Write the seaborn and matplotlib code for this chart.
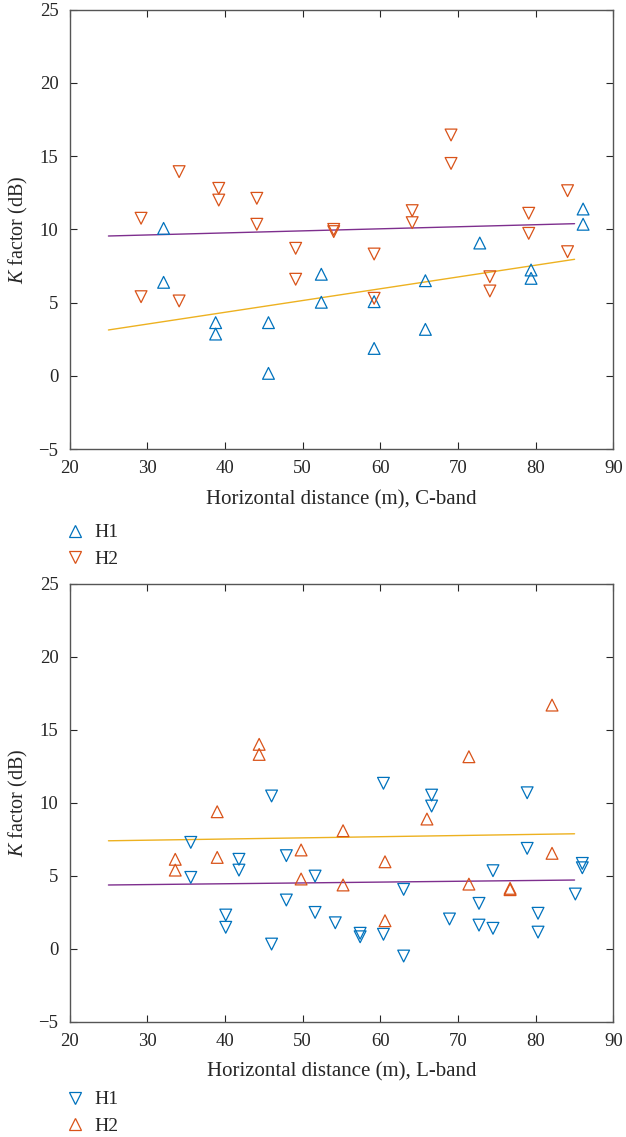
import numpy as np
import pandas as pd
import seaborn as sns
import matplotlib
matplotlib.use("Agg")
import matplotlib.pyplot as plt
from matplotlib.lines import Line2D

# ---------------- data: C-band (top) ----------------
c_h1_x = [32.1, 32.1, 38.8, 38.8, 45.6, 45.6, 52.4, 52.4, 59.2, 59.2, 65.8, 65.8, 72.8, 79.4, 79.4, 86.1, 86.1]
c_h1_y = [10.07, 6.39, 3.64, 2.86, 3.64, 0.18, 6.94, 5.03, 5.07, 1.88, 6.50, 3.18, 9.07, 7.23, 6.66, 11.39, 10.35]
c_h2_x = [29.2, 29.2, 34.1, 34.1, 39.2, 39.2, 44.1, 44.1, 49.1, 49.1, 54.0, 54.0,
          59.2, 59.2, 64.1, 64.1, 69.1, 69.1, 74.1, 74.1, 79.1, 79.1, 84.1, 84.1]
c_h2_y = [10.76, 5.41, 13.94, 5.12, 12.80, 12.00, 12.12, 10.35, 8.71, 6.60, 9.85, 10.00,
          8.32, 5.30, 11.28, 10.46, 16.44, 14.50, 6.77, 5.80, 11.10, 9.73, 12.64, 8.48]
c_fit_x = [25, 85]
c_fit_h1 = [3.14, 7.96]   # yellow
c_fit_h2 = [9.55, 10.39]  # purple

# ---------------- data: L-band (bottom) ----------------
l_h1_x = [35.6, 35.6, 40.1, 40.1, 41.8, 41.8, 46.0, 46.0, 47.9, 47.9, 51.6, 51.6, 54.2,
          57.4, 57.4, 60.4, 60.4, 63.0, 63.0, 66.6, 66.6, 68.9, 72.7, 72.7, 74.5, 74.5,
          78.9, 78.9, 80.3, 80.3, 85.1, 86.0, 86.0]
l_h1_y = [7.29, 4.89, 2.31, 1.47, 6.13, 5.39, 10.47, 0.32, 6.38, 3.34, 4.98, 2.49, 1.78,
          1.06, 0.82, 11.34, 0.99, 4.07, -0.50, 10.53, 9.78, 2.04, 3.11, 1.62, 5.35, 1.40,
          10.69, 6.88, 2.43, 1.14, 3.75, 5.85, 5.55]
l_h2_x = [33.6, 33.6, 39.0, 39.0, 44.4, 44.4, 49.8, 49.8, 55.2, 55.2, 60.6, 60.6, 66.0,
          71.4, 71.4, 76.7, 76.7, 82.1, 82.1]
l_h2_y = [6.13, 5.39, 9.39, 6.26, 14.01, 13.32, 6.77, 4.78, 8.09, 4.37, 5.96, 1.92, 8.89,
          13.16, 4.43, 4.14, 4.05, 16.70, 6.54]
l_fit_x = [25, 85]
l_fit_h1 = [4.37, 4.71]   # purple
l_fit_h2 = [7.40, 7.88]   # yellow

x_ticks = [20, 30, 40, 50, 60, 70, 80, 90]
y_ticks = [-5, 0, 5, 10, 15, 20, 25]

# ---------------- style ----------------
BLUE = "#0072BD"
ORANGE = "#D95319"
YELLOW = "#EDB120"
PURPLE = "#7E2F8E"
DARK = "#262626"

sns.set_theme(style="white")
plt.rcParams["font.family"] = ["Liberation Serif", "DejaVu Serif"]
plt.rcParams["mathtext.fontset"] = "custom"
plt.rcParams["mathtext.it"] = "Liberation Serif:italic"
plt.rcParams["mathtext.rm"] = "Liberation Serif"
plt.rcParams["axes.unicode_minus"] = True

fig = plt.figure(figsize=(6.26, 11.37), dpi=100)
W, H = 626, 1137
ax1 = fig.add_axes([69.6 / W, 1 - 449.3 / H, (613.4 - 69.6) / W, (449.3 - 9.5) / H])
ax2 = fig.add_axes([69.6 / W, 1 - 1021.7 / H, (613.4 - 69.6) / W, (1021.7 - 584.0) / H])

MS = 72
LW = 0.9


def panel(ax, h1x, h1y, h1m, h2x, h2y, h2m, fx, fa, fca, fb, fcb, xlabel, legend_y):
    sns.scatterplot(x=h1x, y=h1y, ax=ax, marker=h1m, s=MS, facecolors="none",
                    edgecolors=BLUE, linewidths=LW, zorder=3)
    sns.scatterplot(x=h2x, y=h2y, ax=ax, marker=h2m, s=MS, facecolors="none",
                    edgecolors=ORANGE, linewidths=LW, zorder=3)
    sns.lineplot(x=fx, y=fa, ax=ax, color=fca, linewidth=1.0, zorder=2)
    sns.lineplot(x=fx, y=fb, ax=ax, color=fcb, linewidth=1.0, zorder=2)
    ax.set_xlim(20, 90)
    ax.set_ylim(-5, 25)
    ax.set_xticks(x_ticks)
    ax.set_yticks(y_ticks)
    ax.tick_params(direction="in", length=5, width=0.8, colors=DARK, labelsize=13.5,
                   top=True, right=True, bottom=True, left=True, pad=8)
    for sp in ax.spines.values():
        sp.set_color("#555555")
        sp.set_linewidth(1.0)
    ax.set_xlabel(xlabel, fontsize=15, color=DARK, labelpad=9)
    ax.set_ylabel(r"$\mathit{K}$ factor (dB)", fontsize=14.5, color=DARK, labelpad=6)
    handles = [
        Line2D([], [], linestyle="none", marker=h1m, markersize=8, markerfacecolor="none",
               markeredgecolor=BLUE, markeredgewidth=LW),
        Line2D([], [], linestyle="none", marker=h2m, markersize=8, markerfacecolor="none",
               markeredgecolor=ORANGE, markeredgewidth=LW),
    ]
    ax.legend(handles, ["H1", "H2"], loc="upper left", bbox_to_anchor=(56 / W, legend_y),
              bbox_transform=fig.transFigure, frameon=False, fontsize=14,
              handlelength=1.0, handletextpad=0.45, labelspacing=0.45, borderpad=0,
              labelcolor=DARK)


panel(ax1, c_h1_x, c_h1_y, "^", c_h2_x, c_h2_y, "v",
      c_fit_x, c_fit_h1, YELLOW, c_fit_h2, PURPLE,
      "Horizontal distance (m), C-band", 1 - 514 / H)
panel(ax2, l_h1_x, l_h1_y, "v", l_h2_x, l_h2_y, "^",
      l_fit_x, l_fit_h1, PURPLE, l_fit_h2, YELLOW,
      "Horizontal distance (m), L-band", 1 - 1081 / H)

fig.savefig("out.png", dpi=100)
